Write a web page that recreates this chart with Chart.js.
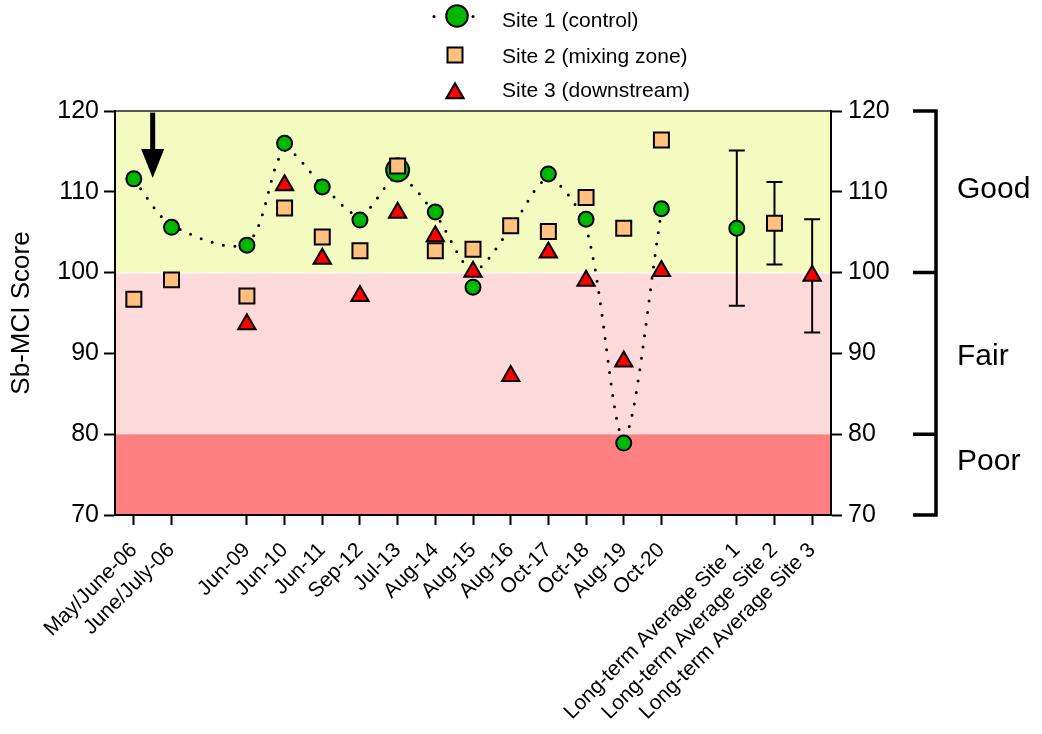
<!DOCTYPE html>
<html>
<head>
<meta charset="utf-8">
<script src="https://cdn.jsdelivr.net/npm/chart.js@4.4.1/dist/chart.umd.min.js"></script>
<style>
  html, body { margin: 0; padding: 0; background: #fff; }
  #wrap { width: 1042px; height: 734px; position: relative; }
</style>
</head>
<body>
<div id="wrap"><canvas id="chart"></canvas></div>
<script>
// Sampling events, in order, with their place on the x axis (gaps where years were skipped)
const categories = [
  'May/June-06', 'June/July-06', 'Jun-09', 'Jun-10', 'Jun-11', 'Sep-12', 'Jul-13',
  'Aug-14', 'Aug-15', 'Aug-16', 'Oct-17', 'Oct-18', 'Aug-19', 'Oct-20',
  'Long-term Average Site 1', 'Long-term Average Site 2', 'Long-term Average Site 3'
];
const positions = [0, 1, 3, 4, 5, 6, 7, 8, 9, 10, 11, 12, 13, 14, 16, 17, 18];

// Sb-MCI scores per sampling event (first 14 categories)
const site1 = [111.6, 105.6, 103.4, 116.0, 110.6, 106.5, 112.7, 107.5, 98.2, null, 112.2, 106.6, 78.9, 107.9];
const site2 = [96.7, 99.1, 97.1, 108.0, 104.4, 102.7, 113.2, 102.7, 102.9, 105.8, 105.1, 109.3, 105.5, 116.4];
const site3 = [null, null, 93.6, 110.8, 101.7, 97.1, 107.4, 104.5, 100.1, 87.2, 102.5, 99.0, 89.0, 100.2];

// Smoothed trend of Site 1 (dotted curve), level at each sampling event
const site1Trend = [111.5, 105.9, 103.6, 115.1, 110.8, 107.1, 111.8, 107.2, 100.3, 105.5, 111.6, 105.6, 79.6, 107.5];

// Long-term averages (mean and error) for the three sites
const averageMean = [105.5, 106.1, 99.6];
const averageError = [9.6, 5.1, 7.0];

// Condition classes on the Sb-MCI scale
const classEdges = [70, 80, 100, 120];
const classNames = ['Poor', 'Fair', 'Good'];
const classLabelAt = [76.6, 89.6, 110.2];

const seriesNames = ['Site 1 (control)', 'Site 2 (mixing zone)', 'Site 3 (downstream)'];
const yTicks = [70, 80, 90, 100, 110, 120];

// Marker annotating the first sampling event
const arrowAt = { x: 0.5, from: 119.8, to: 111.7 };

const FONT = '"Liberation Sans", Arial, Helvetica, sans-serif';
const classColors = ['#FF8080', '#FFDADA', '#F4FBC0'];
const GREEN = '#00B800';
const ORANGE = '#FFC080';
const RED = '#FF0000';

function toPoints(values) {
  const pts = [];
  values.forEach((v, i) => { if (v !== null) pts.push({ x: positions[i], y: v }); });
  return pts;
}
function avgPoint(k) {
  return [{ x: positions[14 + k], y: averageMean[k] }];
}

function drawMarker(ctx, style, x, y, r, fill) {
  ctx.save();
  ctx.fillStyle = fill;
  ctx.strokeStyle = '#000';
  ctx.lineWidth = 2;
  ctx.beginPath();
  if (style === 'circle') {
    ctx.arc(x, y, r, 0, Math.PI * 2);
  } else if (style === 'rect') {
    const s = r * Math.SQRT1_2;
    ctx.rect(x - s, y - s, 2 * s, 2 * s);
  } else {
    for (let k = 0; k < 3; k++) {
      const a = k * 2 * Math.PI / 3;
      const px = x + Math.sin(a) * r, py = y - Math.cos(a) * r;
      if (k === 0) ctx.moveTo(px, py); else ctx.lineTo(px, py);
    }
    ctx.closePath();
  }
  ctx.fill();
  ctx.stroke();
  ctx.restore();
}

// Background condition bands and the top frame line
const bandsPlugin = {
  id: 'bands',
  beforeDraw(chart) {
    const { ctx, chartArea: a, scales: { y } } = chart;
    ctx.save();
    for (let i = 0; i < classNames.length; i++) {
      const top = y.getPixelForValue(classEdges[i + 1]);
      const bot = y.getPixelForValue(classEdges[i]);
      ctx.fillStyle = classColors[i];
      ctx.fillRect(a.left, top, a.right - a.left, bot - top);
    }
    // thin light seam between the Good and Fair bands
    ctx.fillStyle = '#ffffff';
    ctx.fillRect(a.left, Math.round(y.getPixelForValue(classEdges[2])) - 0.5, a.right - a.left, 1);
    ctx.strokeStyle = '#222';
    ctx.lineWidth = 1.5;
    ctx.beginPath();
    ctx.moveTo(a.left, a.top);
    ctx.lineTo(a.right, a.top);
    ctx.stroke();
    ctx.restore();
  }
};

// Error bars of the long-term averages, drawn beneath the markers
const errorBarsPlugin = {
  id: 'errorBars',
  beforeDatasetsDraw(chart) {
    const { ctx, scales: { x, y } } = chart;
    ctx.save();
    ctx.strokeStyle = '#000';
    ctx.lineWidth = 2;
    averageMean.forEach((m, k) => {
      const px = x.getPixelForValue(positions[14 + k]);
      const hi = y.getPixelForValue(m + averageError[k]);
      const lo = y.getPixelForValue(m - averageError[k]);
      ctx.beginPath();
      ctx.moveTo(px, hi); ctx.lineTo(px, lo);
      ctx.moveTo(px - 8, hi); ctx.lineTo(px + 8, hi);
      ctx.moveTo(px - 8, lo); ctx.lineTo(px + 8, lo);
      ctx.stroke();
    });
    ctx.restore();
  }
};

// Arrow, class bracket on the right and the legend
const decorPlugin = {
  id: 'decor',
  afterDraw(chart) {
    const { ctx, chartArea: a, scales: { x, y } } = chart;
    ctx.save();

    // arrow
    const ax = x.getPixelForValue(arrowAt.x);
    const aTop = y.getPixelForValue(arrowAt.from);
    const aTip = y.getPixelForValue(arrowAt.to);
    const headLen = 29;
    ctx.fillStyle = '#000';
    ctx.fillRect(ax - 2.5, aTop, 5, aTip - aTop - headLen + 1);
    ctx.beginPath();
    ctx.moveTo(ax - 11.5, aTip - headLen);
    ctx.lineTo(ax + 11.5, aTip - headLen);
    ctx.lineTo(ax, aTip);
    ctx.closePath();
    ctx.fill();

    // class bracket
    const bx = a.right + 105;
    ctx.strokeStyle = '#000';
    ctx.lineWidth = 3.5;
    ctx.lineCap = 'butt';
    ctx.beginPath();
    ctx.moveTo(bx, y.getPixelForValue(classEdges[classEdges.length - 1]) - 1.75);
    ctx.lineTo(bx, y.getPixelForValue(classEdges[0]) + 1.75);
    classEdges.forEach(v => {
      const py = y.getPixelForValue(v);
      ctx.moveTo(bx - 23, py);
      ctx.lineTo(bx, py);
    });
    ctx.stroke();
    ctx.fillStyle = '#000';
    ctx.font = '30px ' + FONT;
    ctx.textAlign = 'left';
    ctx.textBaseline = 'middle';
    classNames.forEach((n, i) => {
      ctx.fillText(n, bx + 21, y.getPixelForValue(classLabelAt[i]));
    });

    // legend
    const mx = 455, tx = 502;
    const rows = [27, 63, 97];
    drawMarker(ctx, 'circle', mx + 2, 16, 10.8, GREEN);
    ctx.fillStyle = '#000';
    [mx - 21, mx + 18].forEach(dx => {
      ctx.beginPath(); ctx.arc(dx, 16.5, 1.5, 0, Math.PI * 2); ctx.fill();
    });
    drawMarker(ctx, 'rect', mx, 55, 10.6, ORANGE);
    drawMarker(ctx, 'triangle', mx, 93.3, 10, RED);
    ctx.fillStyle = '#000';
    ctx.font = '21px ' + FONT;
    ctx.textBaseline = 'alphabetic';
    seriesNames.forEach((n, i) => ctx.fillText(n, tx, rows[i]));

    ctx.restore();
  }
};

const markerCommon = { borderColor: '#000', pointBorderColor: '#000', pointBorderWidth: 2, pointHoverBorderWidth: 2 };

new Chart(document.getElementById('chart'), {
  type: 'scatter',
  data: {
    datasets: [
      {
        label: 'Site 1 trend',
        data: toPoints(site1Trend),
        showLine: true,
        tension: 0.3,
        borderColor: '#000',
        borderWidth: 3,
        borderDash: [0, 11.5],
        borderCapStyle: 'round',
        pointRadius: 0,
        pointHoverRadius: 0,
        order: 4
      },
      Object.assign({
        label: seriesNames[0],
        data: toPoints(site1),
        pointStyle: 'circle',
        pointRadius: ctx => (ctx.raw && ctx.raw.x === 7 ? 11.5 : 7.5),
        pointHoverRadius: ctx => (ctx.raw && ctx.raw.x === 7 ? 11.5 : 7.5),
        pointBackgroundColor: GREEN,
        order: 3
      }, markerCommon),
      Object.assign({
        label: seriesNames[1],
        data: toPoints(site2),
        pointStyle: 'rect',
        pointRadius: 10.6,
        pointHoverRadius: 10.6,
        pointBackgroundColor: ORANGE,
        order: 2
      }, markerCommon),
      Object.assign({
        label: seriesNames[2],
        data: toPoints(site3),
        pointStyle: 'triangle',
        pointRadius: 10,
        pointHoverRadius: 10,
        pointBackgroundColor: RED,
        order: 1
      }, markerCommon),
      Object.assign({
        label: 'avg1', data: avgPoint(0), pointStyle: 'circle',
        pointRadius: 7.5, pointHoverRadius: 7.5, pointBackgroundColor: GREEN, order: 3
      }, markerCommon),
      Object.assign({
        label: 'avg2', data: avgPoint(1), pointStyle: 'rect',
        pointRadius: 10.6, pointHoverRadius: 10.6, pointBackgroundColor: ORANGE, order: 2
      }, markerCommon),
      Object.assign({
        label: 'avg3', data: avgPoint(2), pointStyle: 'triangle',
        pointRadius: 10, pointHoverRadius: 10, pointBackgroundColor: RED, order: 1
      }, markerCommon)
    ]
  },
  options: {
    responsive: true,
    maintainAspectRatio: false,
    animation: false,
    events: [],
    layout: { padding: { top: 111, left: 0, right: 0, bottom: 0 } },
    plugins: { legend: { display: false }, tooltip: { enabled: false } },
    scales: {
      x: {
        type: 'linear',
        position: 'bottom',
        min: -0.5,
        max: 18.5,
        afterBuildTicks: s => { s.ticks = positions.map(v => ({ value: v })); },
        afterFit: s => { s.height = 219; },
        border: { display: true, color: '#000', width: 2 },
        grid: { display: true, drawOnChartArea: false, drawTicks: true, tickLength: 10, tickWidth: 2, tickColor: '#000', color: '#000' },
        ticks: {
          autoSkip: false,
          minRotation: 45,
          maxRotation: 45,
          padding: 13,
          color: '#000',
          font: { family: FONT, size: 21 },
          callback: v => categories[positions.indexOf(v)]
        }
      },
      y: {
        type: 'linear',
        position: 'left',
        min: 70,
        max: 120,
        afterBuildTicks: s => { s.ticks = yTicks.map(v => ({ value: v })); },
        afterFit: s => { s.width = 115; },
        border: { display: true, color: '#000', width: 2 },
        grid: { display: true, drawOnChartArea: false, drawTicks: true, tickLength: 11, tickWidth: 2, tickColor: '#000', color: '#000' },
        ticks: { color: '#000', padding: 5, font: { family: FONT, size: 25 } },
        title: { display: true, text: 'Sb-MCI Score', color: '#000', padding: { top: 6, bottom: 0 }, font: { family: FONT, size: 26 } }
      },
      y2: {
        type: 'linear',
        position: 'right',
        min: 70,
        max: 120,
        afterBuildTicks: s => { s.ticks = yTicks.map(v => ({ value: v })); },
        afterFit: s => { s.width = 211; },
        border: { display: true, color: '#000', width: 2 },
        grid: { display: true, drawOnChartArea: false, drawTicks: true, tickLength: 11, tickWidth: 2, tickColor: '#000', color: '#000' },
        ticks: { color: '#000', padding: 6, font: { family: FONT, size: 25 } }
      }
    }
  },
  plugins: [bandsPlugin, errorBarsPlugin, decorPlugin]
});
</script>
</body>
</html>
